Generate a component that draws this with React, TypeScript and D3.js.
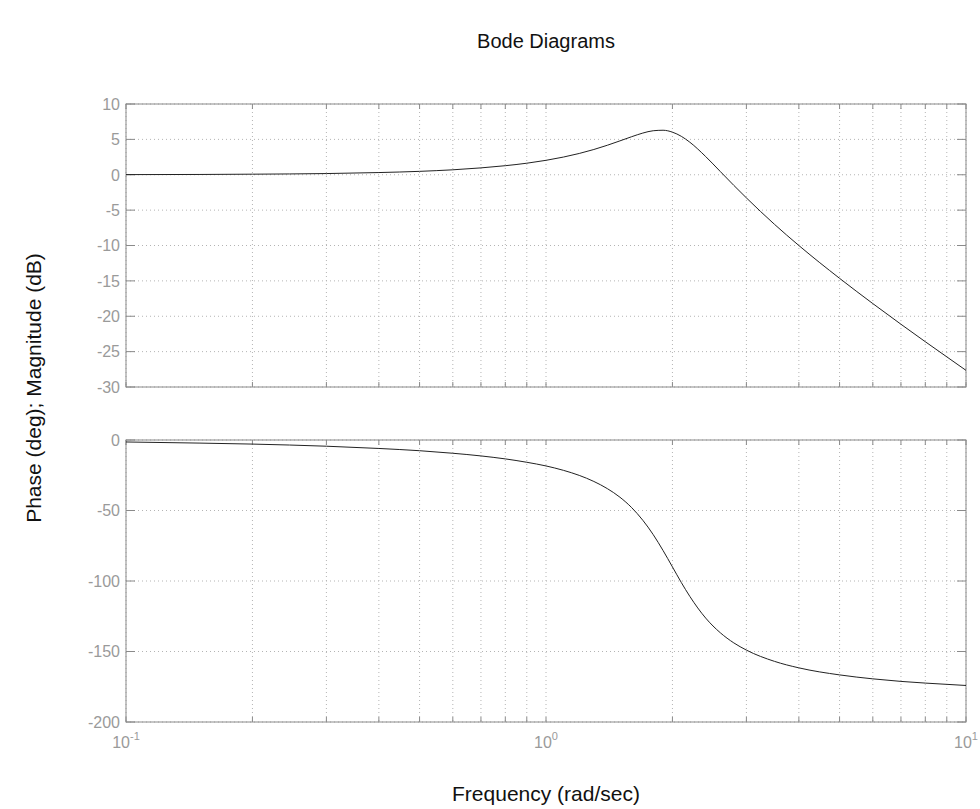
import React, { useRef, useEffect } from 'react';
import * as d3 from 'd3';

// values
const freq = [0.1, 0.15, 0.2, 0.3, 0.4, 0.5, 0.6, 0.7, 0.8, 0.9, 1.0, 1.1, 1.2, 1.3, 1.4, 1.5, 1.6, 1.7, 1.8, 1.9, 2.0, 2.1, 2.2, 2.4, 2.6, 2.8, 3.0, 3.5, 4, 5, 6, 7, 8, 10];
const magDb = [0.02, 0.04, 0.08, 0.17, 0.31, 0.48, 0.7, 0.97, 1.28, 1.63, 2.04, 2.5, 3.01, 3.57, 4.17, 4.79, 5.38, 5.89, 6.22, 6.29, 6.02, 5.43, 4.6, 2.57, 0.46, -1.5, -3.27, -7.01, -10, -14.64, -18.21, -21.13, -23.6, -27.65];
const phaseDeg = [-1.4, -2.2, -2.9, -4.4, -6.0, -7.6, -9.4, -11.3, -13.4, -15.8, -18.4, -21.5, -25.1, -29.4, -34.5, -40.6, -48.0, -56.9, -67.1, -78.4, -90, -101.1, -110.9, -126.3, -136.7, -143.9, -149.0, -157.0, -161.6, -166.6, -169.4, -171.2, -172.4, -174.1];

const magTicks = [10, 5, 0, -5, -10, -15, -20, -25, -30];
const phaseTicks = [0, -50, -100, -150, -200];
const decades = [0.1, 1, 10];
const decadeExp = ['-1', '0', '1'];

const W = 980;
const H = 809;

const App = () => {
  const svgRef = useRef<SVGSVGElement>(null);

  useEffect(() => {
    document.body.style.margin = '0';
    const svg = d3.select(svgRef.current).attr('width', W).attr('height', H);
    svg.selectAll('*').remove();

    const left = 126;
    const right = 966;
    const font = 'Liberation Sans, Arial, Helvetica, sans-serif';
    const axisColor = '#8a8a8a';
    const gridColor = '#b4b4b4';
    const labelColor = '#9a9a9a';

    const x = d3.scaleLog().domain([0.1, 10]).range([left, right]);
    const xTicks = x.ticks();

    const panels = [
      { top: 104, bottom: 387, domain: [-30, 10], ticks: magTicks, values: magDb, xLabels: false },
      { top: 440, bottom: 722, domain: [-200, 0], ticks: phaseTicks, values: phaseDeg, xLabels: true },
    ];

    panels.forEach((p) => {
      const y = d3.scaleLinear().domain(p.domain).range([p.bottom, p.top]);
      const g = svg.append('g');

      // grid
      g.selectAll('.vgrid')
        .data(xTicks)
        .enter()
        .append('line')
        .attr('x1', (d) => x(d))
        .attr('x2', (d) => x(d))
        .attr('y1', p.top)
        .attr('y2', p.bottom)
        .attr('stroke', gridColor)
        .attr('stroke-dasharray', '1,3');

      g.selectAll('.hgrid')
        .data(p.ticks)
        .enter()
        .append('line')
        .attr('x1', left)
        .attr('x2', right)
        .attr('y1', (d) => y(d))
        .attr('y2', (d) => y(d))
        .attr('stroke', gridColor)
        .attr('stroke-dasharray', '1,3');

      // x tick marks top and bottom
      g.selectAll('.xtb')
        .data(xTicks)
        .enter()
        .append('line')
        .attr('x1', (d) => x(d))
        .attr('x2', (d) => x(d))
        .attr('y1', p.bottom)
        .attr('y2', p.bottom - 5)
        .attr('stroke', axisColor);
      g.selectAll('.xtt')
        .data(xTicks)
        .enter()
        .append('line')
        .attr('x1', (d) => x(d))
        .attr('x2', (d) => x(d))
        .attr('y1', p.top)
        .attr('y2', p.top + 5)
        .attr('stroke', axisColor);

      // y tick marks left and right
      g.selectAll('.ytl')
        .data(p.ticks)
        .enter()
        .append('line')
        .attr('x1', left)
        .attr('x2', left + 9)
        .attr('y1', (d) => y(d))
        .attr('y2', (d) => y(d))
        .attr('stroke', axisColor);
      g.selectAll('.ytr')
        .data(p.ticks)
        .enter()
        .append('line')
        .attr('x1', right)
        .attr('x2', right - 9)
        .attr('y1', (d) => y(d))
        .attr('y2', (d) => y(d))
        .attr('stroke', axisColor);

      // y tick labels
      g.selectAll('.ylab')
        .data(p.ticks)
        .enter()
        .append('text')
        .attr('x', left - 6)
        .attr('y', (d) => y(d))
        .attr('dy', '0.36em')
        .attr('text-anchor', 'end')
        .attr('font-family', font)
        .attr('font-size', 16)
        .attr('fill', labelColor)
        .text((d) => String(d));

      // frame
      g.append('rect')
        .attr('x', left)
        .attr('y', p.top)
        .attr('width', right - left)
        .attr('height', p.bottom - p.top)
        .attr('fill', 'none')
        .attr('stroke', axisColor);

      // curve
      const line = d3
        .line<number>()
        .x((_, i) => x(freq[i]))
        .y((d) => y(d))
        .curve(d3.curveMonotoneX);
      g.append('path')
        .datum(p.values)
        .attr('d', line)
        .attr('fill', 'none')
        .attr('stroke', '#222')
        .attr('stroke-width', 1);

      if (p.xLabels) {
        const t = g
          .selectAll('.xlab')
          .data(decades)
          .enter()
          .append('text')
          .attr('x', (d) => x(d))
          .attr('y', p.bottom + 26)
          .attr('text-anchor', 'middle')
          .attr('font-family', font)
          .attr('font-size', 16)
          .attr('fill', labelColor);
        t.append('tspan').text('10');
        t.append('tspan')
          .attr('dy', -8)
          .attr('font-size', 11)
          .text((_, i) => decadeExp[i]);
      }
    });

    svg.append('text')
      .attr('x', 546)
      .attr('y', 48)
      .attr('text-anchor', 'middle')
      .attr('font-family', font)
      .attr('font-size', 20)
      .attr('fill', '#111')
      .text('Bode Diagrams');

    svg.append('text')
      .attr('x', 546)
      .attr('y', 801)
      .attr('text-anchor', 'middle')
      .attr('font-family', font)
      .attr('font-size', 21)
      .attr('fill', '#111')
      .text('Frequency (rad/sec)');

    svg.append('text')
      .attr('transform', 'translate(41,388) rotate(-90)')
      .attr('text-anchor', 'middle')
      .attr('font-family', font)
      .attr('font-size', 21)
      .attr('fill', '#111')
      .text('Phase (deg); Magnitude (dB)');
  }, []);

  return <svg ref={svgRef} style={{ display: 'block' }} />;
};

export default App;
